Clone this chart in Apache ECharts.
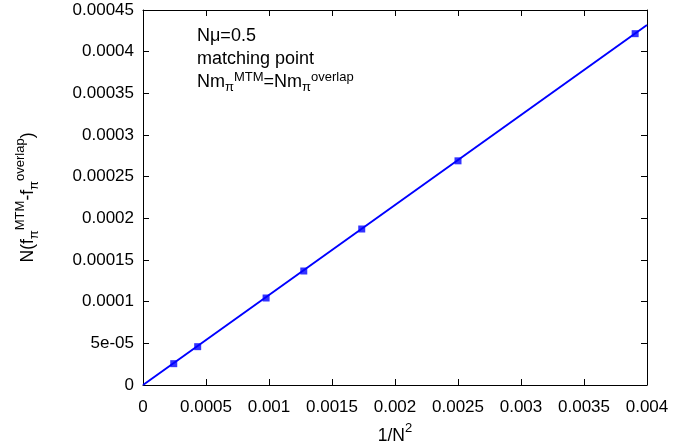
<!DOCTYPE html>
<html>
<head>
<meta charset="utf-8">
<script src="https://cdn.jsdelivr.net/npm/echarts@6/dist/echarts.min.js"></script>
<style>html,body{margin:0;padding:0;background:#fff;}#c{width:675px;height:442px;}</style>
</head>
<body>
<div id="c"></div>
<script>
// Data
var xValues = [0.000244, 0.000434, 0.000977, 0.001276, 0.001736, 0.0025, 0.003906];
var yValues = [0.0000256, 0.0000460, 0.0001044, 0.0001368, 0.0001872, 0.000269, 0.0004216];
var fitX = [0, 0.004];
var fitY = [0, 0.000432];
var xTickLabels = ['0', '0.0005', '0.001', '0.0015', '0.002', '0.0025', '0.003', '0.0035', '0.004'];
var yTickLabels = ['0', '5e-05', '0.0001', '0.00015', '0.0002', '0.00025', '0.0003', '0.00035', '0.0004', '0.00045'];

var FONT = 'Liberation Sans';
var pts = xValues.map(function (x, i) { return [x, yValues[i]]; });
var fit = fitX.map(function (x, i) { return [x, fitY[i]]; });

var chart = echarts.init(document.getElementById('c'), null, {renderer: 'canvas'});
var axisCommon = {
  axisLine: {show: true, onZero: false, lineStyle: {color: '#000', width: 1}},
  axisTick: {show: true, inside: true, length: 6, lineStyle: {color: '#000'}},
  splitLine: {show: false}
};
var rich = {
  n: {fontFamily: FONT, fontSize: 17.5, color: '#000', lineHeight: 30, verticalAlign: 'middle'},
  sup: {fontFamily: FONT, fontSize: 13, color: '#000', lineHeight: 30, verticalAlign: 'top', padding: [1, 0, 0, 0]},
  sub: {fontFamily: FONT, fontSize: 13, color: '#000', lineHeight: 30, verticalAlign: 'bottom', padding: [0, 0, 2, 0]}
};
chart.setOption({
  animation: false,
  grid: {left: 143, right: 28, top: 10, bottom: 57, containLabel: false, outerBoundsMode: 'none'},
  xAxis: [
    Object.assign({
      type: 'value', min: 0, max: 0.004, interval: 0.0005, position: 'bottom',
      name: '{n|1/N}{sup|2}', nameLocation: 'middle', nameGap: 30,
      nameTextStyle: {rich: rich},
      axisLabel: {fontFamily: FONT, fontSize: 17, color: '#000', margin: 14,
        formatter: function (v) { return xTickLabels[Math.round(v / 0.0005)]; }}
    }, axisCommon),
    Object.assign({
      type: 'value', min: 0, max: 0.004, interval: 0.0005, position: 'top',
      axisLabel: {show: false}
    }, axisCommon)
  ],
  yAxis: [
    Object.assign({
      type: 'value', min: 0, max: 0.00045, interval: 0.00005, position: 'left',
      name: '{n|N(f}{sub|π}{sup|MTM}{n|-f}{sub|π}{sup|overlap}{n|)}',
      nameLocation: 'middle', nameRotate: 90, nameGap: 100,
      nameTextStyle: {rich: rich},
      axisLabel: {fontFamily: FONT, fontSize: 17, color: '#000', margin: 9,
        formatter: function (v) { return yTickLabels[Math.round(v / 0.00005)]; }}
    }, axisCommon),
    Object.assign({
      type: 'value', min: 0, max: 0.00045, interval: 0.00005, position: 'right',
      axisLabel: {show: false}
    }, axisCommon)
  ],
  graphic: [{
    type: 'text', left: 197, top: 27,
    style: {
      text: '{n|Nμ=0.5}\n{n|matching point}\n{n|Nm}{sub|π}{sup|MTM}{n|=Nm}{sub|π}{sup|overlap}',
      rich: {
        n: {fontFamily: FONT, fontSize: 18, fill: '#000', lineHeight: 23, verticalAlign: 'middle'},
        sup: {fontFamily: FONT, fontSize: 13, fill: '#000', lineHeight: 23, verticalAlign: 'top'},
        sub: {fontFamily: FONT, fontSize: 13, fill: '#000', lineHeight: 23, verticalAlign: 'bottom'}
      }
    }
  }],
  series: [
    {type: 'line', data: fit, showSymbol: false, symbol: 'none',
     lineStyle: {color: '#0000ff', width: 2}, silent: true},
    {type: 'scatter', data: pts, symbol: 'rect', symbolSize: 7,
     itemStyle: {color: '#0000ff'}}
  ]
});
</script>
</body>
</html>
